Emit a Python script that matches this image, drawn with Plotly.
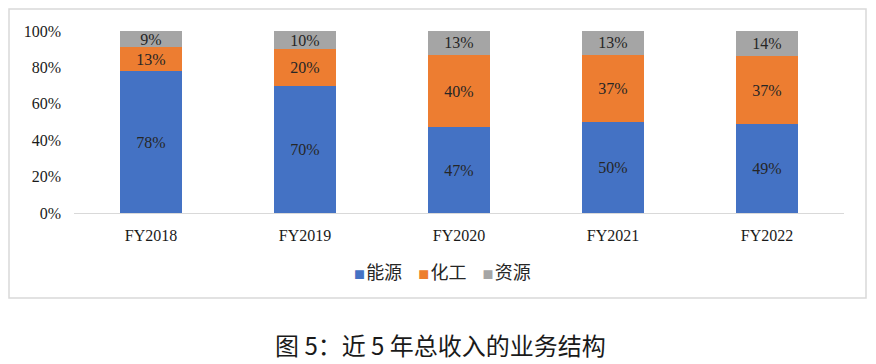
import plotly.graph_objects as go

categories = ["FY2018", "FY2019", "FY2020", "FY2021", "FY2022"]
energy = [0.78, 0.70, 0.47, 0.50, 0.49]
chemical = [0.13, 0.20, 0.40, 0.37, 0.37]
resource = [0.09, 0.10, 0.13, 0.13, 0.14]
series_names = ["能源", "化工", "资源"]
colors = ["#4472C4", "#ED7D31", "#A5A5A5"]
tick_vals = [0, 0.2, 0.4, 0.6, 0.8, 1.0]
tick_text = ["0%", "20%", "40%", "60%", "80%", "100%"]
title_text = "图 5：近 5 年总收入的业务结构"

FONT = "Liberation Serif, Noto Sans CJK SC, serif"

fig = go.Figure()
for name, vals, c in zip(series_names, [energy, chemical, resource], colors):
    fig.add_trace(go.Bar(
        x=categories, y=vals, name=name, marker=dict(color=c, line=dict(width=0)),
        text=[f"{round(v*100)}%" for v in vals],
        textposition="inside", insidetextanchor="middle", constraintext="none",
        textfont=dict(family=FONT, size=16, color="#262626"),
        hoverinfo="skip", showlegend=False,
    ))

W, H = 876, 364
L, R, T, B = 74, W - 844, 31, H - 213
pw, ph = 844 - 74, 213 - 31

def px(x):
    return (x - L) / pw

def py(y):
    return (213 - y) / ph

legend_html = "&nbsp;&nbsp;&nbsp;&nbsp;".join(
    f"<span style='color:{c};font-size:11px'>■</span>&#8202;{n}" for n, c in zip(series_names, colors)
)

fig.update_layout(
    barmode="stack",
    bargap=0.6,
    width=W, height=H,
    margin=dict(l=L, r=R, t=T, b=B, autoexpand=False),
    paper_bgcolor="white", plot_bgcolor="white",
    font=dict(family=FONT, size=16, color="#262626"),
    showlegend=False,
    xaxis=dict(showline=True, linecolor="#D9D9D9", linewidth=1, showgrid=False,
               ticks="", tickfont=dict(family=FONT, size=16, color="#1a1a1a"),
               ticklabelstandoff=8, fixedrange=True),
    yaxis=dict(range=[0, 1], tickvals=tick_vals, ticktext=tick_text, showgrid=False,
               zeroline=False, showline=False, ticks="",
               tickfont=dict(family=FONT, size=16, color="#1a1a1a"),
               ticklabelstandoff=12, fixedrange=True),
    shapes=[dict(type="rect", xref="paper", yref="paper",
                 x0=px(9), x1=px(866), y0=py(298), y1=py(9),
                 line=dict(color="#D9D9D9", width=1.5), fillcolor="rgba(0,0,0,0)", layer="below")],
    annotations=[
        dict(text=legend_html, xref="paper", yref="paper", x=px(442), y=py(271),
             xanchor="center", yanchor="middle", showarrow=False,
             font=dict(family="Noto Sans CJK SC, sans-serif", size=18, color="#262626")),
        dict(text=title_text, xref="paper", yref="paper", x=px(440), y=py(344),
             xanchor="center", yanchor="middle", showarrow=False,
             font=dict(family="Noto Sans CJK SC, serif", size=24, color="#1a1a1a")),
    ],
)

fig.write_html("out.html", config={"displayModeBar": False, "staticPlot": True},
               post_script="document.body.style.margin='0';document.body.style.overflow='hidden';")
